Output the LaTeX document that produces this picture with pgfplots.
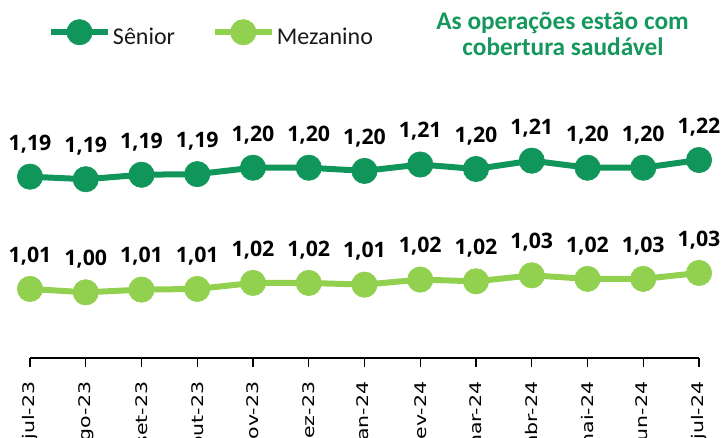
\documentclass[border=0pt]{standalone}
\usepackage{pgfplots}
\pgfplotsset{compat=1.18}
\usepackage{fontspec}
\setmainfont{Carlito}
\newfontfamily\carlito{Carlito}
\newfontfamily\opensans{Open Sans}
\newfontfamily\dejavu{DejaVu Sans}
\definecolor{senior}{RGB}{16,150,90}
\definecolor{mezanino}{RGB}{146,208,80}
\definecolor{titlegreen}{RGB}{22,152,92}
\begin{document}
\begin{tikzpicture}
\begin{axis}[
  at={(22.5pt,59.25pt)}, anchor=south west,
  scale only axis, width=501.75pt, height=268.5pt,
  xmin=0, xmax=12, ymin=0.9027, ymax=1.462,
  clip=false,
  axis x line*=bottom, hide y axis,
  axis line style={black, line width=1.1pt},
  xtick={0,...,12},
  xticklabels={jul-23,ago-23,set-23,out-23,nov-23,dez-23,jan-24,fev-24,mar-24,abr-24,mai-24,jun-24,jul-24},
  tick align=outside, major tick length=6.75pt,
  tick style={black, line width=1.1pt},
  x tick label style={rotate=90, xscale=1.28, transform shape, anchor=east, font=\dejavu\fontsize{12}{14}\selectfont, inner xsep=8.5pt},
  point meta=explicit symbolic,
  nodes near coords,
  every node near coord/.append style={anchor=base, yshift=20pt, font=\opensans\bfseries\fontsize{16}{18}\selectfont, text=black},
  legend columns=2,
  legend style={draw=none, fill=none, at={(0.0269,0.9078)}, anchor=west, inner sep=0pt, outer sep=0pt,
    nodes={inner xsep=1.5pt, inner ysep=0pt, font=\carlito\fontsize{18}{20}\selectfont, text=black!90},
    /tikz/every even column/.append style={column sep=26pt}},
  legend image code/.code={
    \draw[mark repeat=2, mark phase=2, #1] plot coordinates {(0pt,3.75pt) (21.4pt,3.75pt) (42.75pt,3.75pt)};
  },
]
\addplot[senior, line width=4.5pt, mark=*, mark size=9.5pt, mark options={solid, fill=senior, line width=0.5pt}]
  table[meta=lab] {
x y lab
0 1.186 {1,19}
1 1.182 {1,19}
2 1.189 {1,19}
3 1.190 {1,19}
4 1.200 {1,20}
5 1.200 {1,20}
6 1.195 {1,20}
7 1.205 {1,21}
8 1.198 {1,20}
9 1.211 {1,21}
10 1.200 {1,20}
11 1.200 {1,20}
12 1.212 {1,22}
};
\addlegendentry{Sênior}
\addplot[mezanino, line width=4.5pt, mark=*, mark size=9.5pt, mark options={solid, fill=mezanino, line width=0.5pt}]
  table[meta=lab] {
x y lab
0 1.0106 {1,01}
1 1.0053 {1,00}
2 1.0095 {1,01}
3 1.0106 {1,01}
4 1.0200 {1,02}
5 1.0200 {1,02}
6 1.0173 {1,01}
7 1.0252 {1,02}
8 1.0225 {1,02}
9 1.0319 {1,03}
10 1.0263 {1,02}
11 1.0263 {1,03}
12 1.0356 {1,03}
};
\addlegendentry{Mezanino}
\end{axis}
\node[anchor=base, inner sep=0pt, text=titlegreen, font=\carlito\bfseries\fontsize{19}{22}\selectfont] at (421.9pt,306pt) {As operações estão com};
\node[anchor=base, inner sep=0pt, text=titlegreen, font=\carlito\bfseries\fontsize{19}{22}\selectfont] at (422.25pt,286.5pt) {cobertura saudável};
\pgfresetboundingbox
\path[use as bounding box] (0,0) rectangle (542.25pt,327.75pt);
\end{tikzpicture}
\end{document}
